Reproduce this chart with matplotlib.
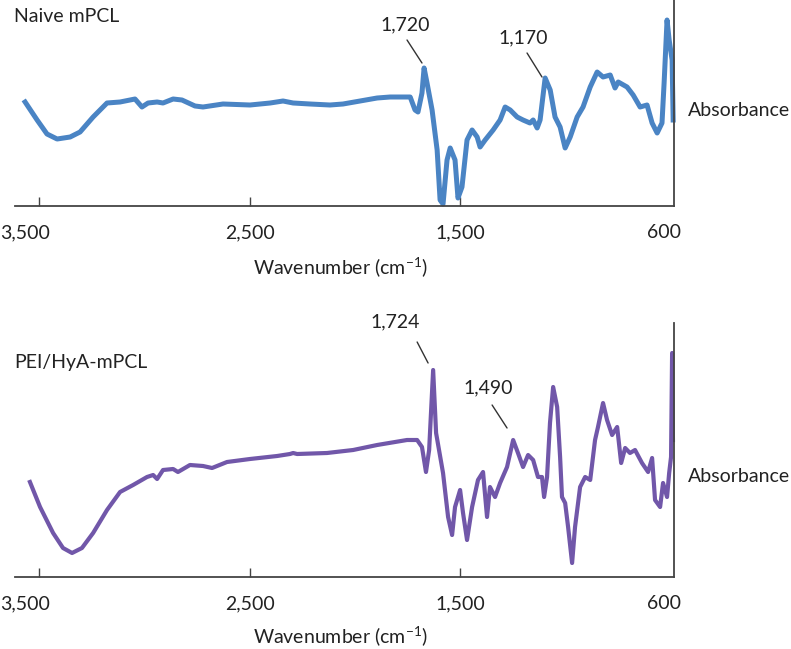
import numpy as np
import matplotlib
matplotlib.use("Agg")
import matplotlib.pyplot as plt
from matplotlib.transforms import ScaledTranslation

plt.rcParams.update({'font.family': 'Lato'})
plt.rcParams.update({'mathtext.fontset': 'custom', 'mathtext.rm': 'Lato'})

# FTIR spectra (wavenumber in cm-1, absorbance in arbitrary units)
wn_naive = [3566, 3509, 3462, 3414, 3352, 3305, 3243, 3177, 3115, 3044, 3011, 2982,
            2939, 2911, 2863, 2821, 2759, 2721, 2626, 2498, 2402, 2341, 2293, 2213,
            2118, 2056, 1975, 1894, 1832, 1737, 1714, 1700, 1681, 1671, 1657, 1633,
            1609, 1595, 1581, 1562, 1547, 1524, 1510, 1491, 1467, 1443, 1419, 1405,
            1381, 1343, 1310, 1286, 1262, 1229, 1201, 1168, 1153, 1134, 1120, 1096,
            1072, 1049, 1025, 1001, 977, 944, 916, 882, 849, 821, 787, 764, 749,
            707, 678, 645, 612, 588, 564, 541, 531, 517, 507, 493, 488]
abs_naive = [104, 86, 72, 67, 69, 74, 89, 103, 104, 107, 99, 103,
             104, 103, 107, 106, 100, 99, 102, 101, 103, 105, 103, 102,
             101, 102, 105, 108, 109, 109, 96, 94, 113, 138, 123, 96,
             56, 6, 2, 46, 58, 46, 8, 19, 66, 76, 69, 59,
             66, 76, 86, 99, 96, 89, 86, 83, 86, 78, 86, 128,
             116, 89, 79, 58, 69, 89, 99, 119, 134, 129, 131, 118, 124,
             119, 111, 99, 101, 83, 73, 83, 123, 186, 166, 146, 86]

wn_pei = [3543, 3495, 3433, 3386, 3343, 3296, 3243, 3177, 3115, 3053, 2987, 2958,
          2939, 2911, 2863, 2840, 2783, 2721, 2678, 2607, 2498, 2369, 2308, 2293,
          2274, 2132, 2008, 1894, 1752, 1704, 1681, 1662, 1647, 1628, 1614, 1600,
          1581, 1557, 1538, 1524, 1500, 1486, 1467, 1443, 1415, 1391, 1372, 1358,
          1334, 1310, 1277, 1248, 1225, 1201, 1177, 1153, 1130, 1111, 1101, 1087,
          1073, 1058, 1039, 1025, 1016, 1001, 987, 968, 954, 930, 906, 882,
          859, 845, 821, 802, 778, 754, 735, 716, 693, 669, 636, 607,
          588, 574, 550, 536, 517, 507, 498, 493, 489]
abs_pei = [95, 70, 44, 29, 24, 29, 44, 67, 85, 92, 100, 102,
           98, 107, 108, 105, 112, 111, 109, 115, 118, 121, 123, 124,
           123, 124, 127, 132, 137, 137, 130, 105, 127, 207, 144, 127,
           104, 60, 42, 70, 87, 64, 37, 70, 97, 105, 60, 90,
           80, 94, 110, 137, 124, 110, 122, 117, 100, 100, 80, 100,
           154, 190, 170, 120, 80, 74, 50, 14, 50, 90, 100, 97,
           137, 150, 174, 157, 142, 150, 114, 129, 124, 127, 114, 105,
           119, 77, 70, 94, 80, 104, 120, 224, 137]

ticks = [3500, 2500, 1500, 530]
tick_labels = ['3,500', '2,500', '1,500', '600']

# peak labels: text, text position, leader start, leader end
peaks_naive = [('1,720', (1761, 181), (1752, 166), (1681, 143)),
               ('1,170', (1201, 168), (1182, 153), (1111, 129))]
peaks_pei = [('1,724', (1809, 255), (1704, 235), (1652, 214)),
             ('1,490', (1367, 189), (1348, 172), (1277, 149))]

W, H = 791, 649
fs = 14
tc = '#222222'
fig = plt.figure(figsize=(W / 100, H / 100), dpi=100)

ax1 = fig.add_axes([15 / W, 1 - 206 / H, 659 / W, 206 / H])
ax2 = fig.add_axes([15 / W, 1 - 577 / H, 659 / W, 254 / H])

panels = [(ax1, wn_naive, abs_naive, '#4a84c4', 3.6, 206, peaks_naive),
          (ax2, wn_pei, abs_pei, '#7157a9', 3.0, 254, peaks_pei)]

for ax, x, y, c, lw, top, peaks in panels:
    ax.plot(x, y, color=c, lw=lw, solid_joinstyle='round', clip_on=False)
    ax.set_xlim(3614, 484)
    ax.set_ylim(0, top)
    for s in ['left', 'top']:
        ax.spines[s].set_visible(False)
    for s in ['bottom', 'right']:
        ax.spines[s].set_color('#444444')
        ax.spines[s].set_linewidth(1.3)
    ax.set_yticks([])
    ax.set_xticks(ticks)
    ax.set_xticklabels(tick_labels, fontsize=fs, color=tc)
    ax.tick_params(axis='x', direction='in', length=6.5, width=1.0,
                   color='#444444', pad=13)
    ax.xaxis.get_major_ticks()[3].tick1line.set_visible(False)
    first = ax.get_xticklabels()[0]
    first.set_transform(first.get_transform() +
                        ScaledTranslation(-0.14, 0, fig.dpi_scale_trans))
    for lab, txt_xy, p0, p1 in peaks:
        ax.text(txt_xy[0], txt_xy[1], lab, fontsize=fs, color=tc,
                ha='center', va='center', clip_on=False)
        ax.annotate('', xy=p1, xytext=p0,
                    arrowprops=dict(arrowstyle='-', color='#333333', lw=1.0,
                                    shrinkA=0, shrinkB=0),
                    annotation_clip=False)

fig.text(14 / W, 1 - 16 / H, 'Naive mPCL', fontsize=fs, color=tc,
         ha='left', va='center')
fig.text(14 / W, 1 - 363 / H, 'PEI/HyA-mPCL', fontsize=fs, color=tc,
         ha='left', va='center')
fig.text(688 / W, 1 - 110 / H, 'Absorbance', fontsize=fs, color=tc,
         ha='left', va='center')
fig.text(688 / W, 1 - 476 / H, 'Absorbance', fontsize=fs, color=tc,
         ha='left', va='center')
xlab = r'Wavenumber (cm$^{\mathregular{-1}}$)'
fig.text(340 / W, 1 - 268 / H, xlab, fontsize=fs, color=tc,
         ha='center', va='center')
fig.text(340 / W, 1 - 637 / H, xlab, fontsize=fs, color=tc,
         ha='center', va='center')

fig.savefig('out.png', dpi=100)
